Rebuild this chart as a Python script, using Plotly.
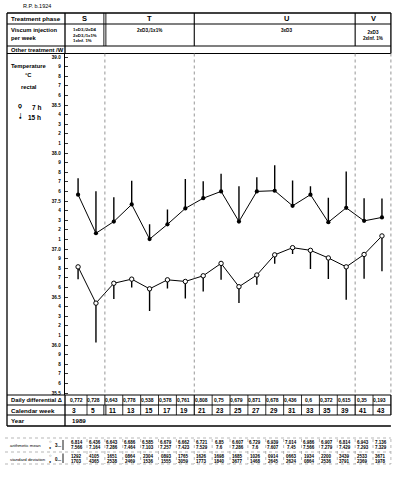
import plotly.graph_objects as go

# ---------------- data ----------------
weeks = [3, 5, 11, 13, 15, 17, 19, 21, 23, 25, 27, 29, 31, 33, 35, 39, 41, 43]
phases = ["S", "T", "U", "V"]
phase_last_idx = [1, 6, 15, 17]
viscum = ["1xD3,/2xD4<br>2xD3,/1x1%<br>1xInf. 1%", "2xD3,/1x1%", "3xD3", "2xD3<br>2xInf. 1%"]
daily_diff = [0.772, 0.728, 0.643, 0.778, 0.538, 0.578, 0.761, 0.808, 0.75, 0.679,
              0.871, 0.678, 0.436, 0.6, 0.372, 0.615, 0.35, 0.193]
mean_7h = [36.814, 36.436, 36.643, 36.686, 36.585, 36.679, 36.662, 36.721, 36.85, 36.607,
           36.729, 36.939, 37.014, 36.986, 36.907, 36.814, 36.943, 37.136]
mean_15h = [37.566, 37.164, 37.286, 37.464, 37.103, 37.257, 37.423, 37.529, 37.6, 37.286,
            37.6, 37.607, 37.45, 37.566, 37.279, 37.429, 37.293, 37.329]
sd_7h = [0.1292, 0.4105, 0.1651, 0.0864, 0.2304, 0.0893, 0.1765, 0.1626, 0.1698, 0.1685,
         0.1026, 0.0914, 0.0663, 0.1934, 0.2200, 0.3439, 0.2533, 0.3671]
sd_15h = [0.1703, 0.4365, 0.2538, 0.2469, 0.1536, 0.1555, 0.3059, 0.1773, 0.1840, 0.3677,
          0.1468, 0.2645, 0.2624, 0.0864, 0.2536, 0.3791, 0.2369, 0.1978]
year = "1989"
patient = "R.P. b.1924"
y_ticks = [round(35.5 + 0.1 * k, 1) for k in range(36)]

# ---------------- layout helpers ----------------
FONT = "Liberation Sans"
W, H = 400, 478
XR = [-0.7315, 18.009]
AX_L = 65.0
n = len(weeks)
idx = list(range(n))


def ipx(i):
    return AX_L + (i - XR[0]) / (XR[1] - XR[0]) * (W - AX_L)


def xp(px):
    return px / W


def yp(py):
    return 1 - py / H


shapes = []


def line(x0, y0, x1, y1, w=1.0, color="black", dash="solid"):
    shapes.append(dict(type="line", xref="paper", yref="paper", x0=xp(x0), y0=yp(y0),
                       x1=xp(x1), y1=yp(y1), line=dict(color=color, width=w, dash=dash)))


anns = []


def text(s, x, y, size=6, xanchor="center", xref="paper", bold=True, xshift=0, align="left"):
    anns.append(dict(text=s, x=xp(x) if xref == "paper" else x, y=yp(y), xref=xref, yref="paper",
                     xanchor=xanchor, yanchor="middle", showarrow=False, borderpad=0, xshift=xshift,
                     align=align,
                     font=dict(family=FONT, size=size, color="black",
                               weight="bold" if bold else "normal")))


TOP, R1, R2, R3 = 13, 24, 46, 53.5
PB, R5, R6, R7 = 395, 405, 415, 426
LEFT = 7
RIGHT = ipx(n - 0.5)
bounds = [b + 0.5 for b in phase_last_idx[:-1]]

# horizontal table lines
for yy, w in [(TOP, 1.3), (R1, 1.1), (R2, 1.1), (R3, 1.1), (PB, 1.1), (R5, 1.1), (R6, 1.1), (R7, 1.6)]:
    line(LEFT, yy, RIGHT, yy, w)
# outer verticals
line(LEFT, TOP, LEFT, R7, 1.3)
line(AX_L, TOP, AX_L, R3, 1.3)
line(AX_L, PB, AX_L, R7, 1.3)
line(RIGHT, TOP, RIGHT, R3, 1.3)
line(RIGHT, PB, RIGHT, R6, 1.3)
line(RIGHT, R3, RIGHT, PB, 0.9, "#8a8a8a", "dot")
# phase boundaries
for k, b in enumerate(bounds):
    xb = ipx(b)
    if k == 0:
        line(xb - 1, TOP, xb - 1, R2, 0.9)
        line(xb + 1, TOP, xb + 1, R2, 0.9)
        line(xb - 1, R5, xb - 1, R6, 0.9)
        line(xb + 1, R5, xb + 1, R6, 0.9)
        line(xb, PB, xb, R5, 0.9)
    else:
        line(xb, TOP, xb, R2, 1.1)
        line(xb, PB, xb, R6, 1.1)
    line(xb, R3, xb, PB, 0.9, "#8a8a8a", "dot")
# cell separators in DD and CW rows
for i in range(n - 1):
    b = i + 0.5
    if b in bounds:
        continue
    line(ipx(b), PB, ipx(b), R6, 0.8)

# stats block lines
for yy in [438, 452, 464]:
    line(LEFT - 2, yy, RIGHT, yy, 0.7, "#9a9a9a", "dot")
for i in range(n):
    line(ipx(i + 0.5), 439, ipx(i + 0.5), 464, 0.7, "#9a9a9a", "dot")
line(63, 440, 63, 450, 0.9)
line(63, 453.5, 63, 463, 0.9)

# ---------------- texts ----------------
text(patient, 22, 6.5, 5.5, "left", bold=False)
text("Treatment phase", 10, 18.8, 6.2, "left")
text("Viscum injection<br>per week", 10, 34, 5.8, "left")
text("Other treatment /W", 10, 49.8, 5.8, "left")
for k, p in enumerate(phases):
    lo = XR[0] if k == 0 else bounds[k - 1]
    hi = phase_last_idx[k] + 0.5
    c = (lo + hi) / 2
    sh = 12 if p == "U" else 0
    text(p, c, 18.8, 7.5, "center", xref="x", xshift=sh)
    if k == 0:
        text(viscum[k], ipx(lo) + 7, 34.5, 4.3, "left", align="left")
    elif k == 3:
        text(viscum[k], c, 35.5, 4.6, "center", xref="x", align="center")
    else:
        text(viscum[k], c, 31, 4.6, "center", xref="x", xshift=sh)

text("Temperature", 29, 66, 5.8, "center")
text("°C", 29, 75.5, 5.8, "center")
text("rectal", 29, 87, 5.8, "center")
text("ọ", 20, 106, 6.5, "center")
text("7 h", 31, 107, 6.5, "left")
text("●", 20, 117.5, 4.8, "center")
text("|", 20, 114, 4, "center")
text("15 h", 27, 117, 6.5, "left")

text("Daily differential Δ", 10, 400, 5.8, "left")
text("Calendar week", 10, 410, 6.2, "left")
text("Year", 10, 420.5, 6.2, "left")
text(year, 71, 420.5, 6.2, "left")
for i in idx:
    text(f"{daily_diff[i]}".replace(".", ","), i, 400.2, 5.0, "center", xref="x", xshift=-2)
    text(str(weeks[i]), i - 0.5, 410, 6.6, "left", xref="x", xshift=3 if i else 2)
    text(str(mean_7h[i])[1:], i - 0.08, 442.2, 4.5, "center", xref="x")
    text(str(mean_15h[i])[1:], i - 0.08, 447.6, 4.5, "center", xref="x")
    text(f"{sd_7h[i]:.4f}"[2:], i - 0.08, 456.3, 4.5, "center", xref="x")
    text(f"{sd_15h[i]:.4f}"[2:], i - 0.08, 461.2, 4.5, "center", xref="x")

text("arithmetic mean", 9, 445, 4.3, "left", bold=False)
text("standard deviation", 9, 459, 4.3, "left", bold=False)
for yy, pre in [(445, "3..."), (459, "0...")]:
    text("○", 50, yy - 3.6, 4.2)
    text("●", 50, yy + 3.2, 3.6)
    text(pre, 53.5, yy, 4.5, "left")

# ---------------- traces ----------------
fig = go.Figure()
fig.add_trace(go.Scatter(
    x=idx, y=mean_15h, mode="lines+markers", name="15 h",
    line=dict(color="black", width=1),
    marker=dict(symbol="circle", size=4.2, color="black"),
    error_y=dict(type="data", symmetric=False, array=sd_15h, arrayminus=[0] * n,
                 width=0, thickness=1.4, color="black"),
    cliponaxis=False))
fig.add_trace(go.Scatter(
    x=idx, y=mean_7h, mode="lines+markers", name="7 h",
    line=dict(color="black", width=1),
    marker=dict(symbol="circle", size=4.4, color="white", line=dict(color="black", width=1)),
    error_y=dict(type="data", symmetric=False, array=[0] * n, arrayminus=sd_7h,
                 width=0, thickness=1.4, color="black"),
    cliponaxis=False))

PPD = 96.0  # pixels per degree
y_lo = 35.5 - (PB - 393) / PPD
y_hi = 39.0 + (57 - R3) / PPD
tick_text = [f"{v:.1f}" if round(v * 10) % 5 == 0 else str(round(v * 10) % 10) for v in y_ticks]

fig.update_layout(
    width=W, height=H, margin=dict(l=0, r=0, t=0, b=0),
    paper_bgcolor="white", plot_bgcolor="white", showlegend=False,
    xaxis=dict(domain=[AX_L / W, 1], range=XR, visible=False, fixedrange=True),
    yaxis=dict(domain=[yp(PB), yp(R3)], range=[y_lo, y_hi], tickvals=y_ticks, ticktext=tick_text,
               ticks="inside", ticklen=3, tickwidth=0.8, tickcolor="black",
               showline=True, linecolor="black", linewidth=1.3, showgrid=False, zeroline=False,
               tickfont=dict(family=FONT, size=4.6, color="black", weight="bold"),
               ticklabelstandoff=2, automargin=False, fixedrange=True),
    shapes=shapes, annotations=anns,
)
fig.write_html("out.html", config={"displayModeBar": False, "staticPlot": True},
               post_script="document.body.style.margin='0';document.body.style.overflow='hidden';")
